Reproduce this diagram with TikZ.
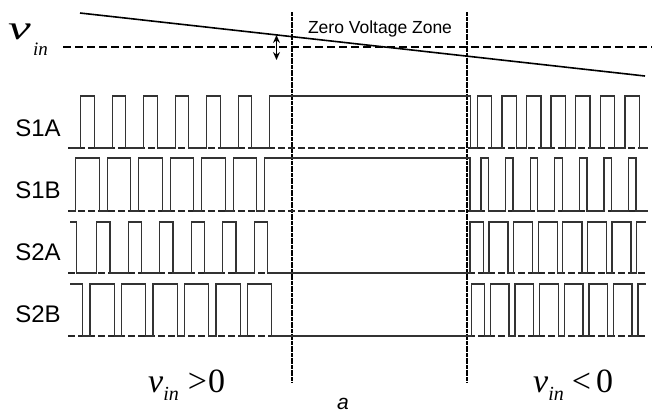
\documentclass[tikz,border=0pt]{standalone}
\usepackage{graphicx}
\usepackage{fontspec}
\setmainfont{Liberation Serif}
\newfontfamily\arialf{Liberation Sans}
\usetikzlibrary{arrows.meta}
\begin{document}
\begin{tikzpicture}[x=1pt,y=-1pt,
  wave/.style={line width=1.3pt, draw=black!80, line join=miter},
  base/.style={line width=1.2pt, dash pattern=on 6.5pt off 3.5pt, draw=black!85},
  zoneline/.style={line width=1.1pt, dash pattern=on 2pt off 0.4pt, draw=black},
  lab/.style={font=\arialf\fontsize{24}{24}\selectfont, inner sep=0pt},
  plain/.style={inner sep=0pt, anchor=base west}]
\useasboundingbox (0,0) rectangle (652,416);
\fill[white] (0,0) rectangle (652,416);

% reference line and input voltage
\coordinate (vs) at (80,13);
\coordinate (ve) at (645,76);
\coordinate (dl) at (63,47);
\coordinate (dr) at (652,47);
\draw[line width=1.6pt] (vs) -- (ve);
\draw[line width=1.5pt, dash pattern=on 8pt off 4pt] (dl) -- (dr);
\coordinate (at) at (276.5,35);
\coordinate (ab) at (276.5,60);
\draw[line width=1.2pt, {Stealth[length=8pt,width=7pt]}-{Stealth[length=8pt,width=7pt]}] (at) -- (ab);

% zone boundaries
\coordinate (z1t) at (292,12); \coordinate (z1b) at (292,383);
\coordinate (z2t) at (467,12); \coordinate (z2b) at (467,383);
\draw[zoneline] (z1t) -- (z1b);
\draw[zoneline] (z2t) -- (z2b);

% dashed baselines
\draw[base] (68,148) -- (648,148);
\draw[base] (68,211) -- (648,211);
\draw[base] (68,273) -- (648,273);
\draw[base] (68,336) -- (648,336);

% S1A
\draw[wave] (70,148)
  \foreach \k in {0,...,5}{ -- ({80.7+31.5*\k},148) -- ({80.7+31.5*\k},96) -- ({94.2+31.5*\k},96) -- ({94.2+31.5*\k},148) }
  -- (269.7,148) -- (269.7,96) -- (470.5,96) -- (470.5,148)
  \foreach \k in {0,...,6}{ -- ({477.3+24.6*\k},148) -- ({477.3+24.6*\k},96) -- ({491.7+24.6*\k},96) -- ({491.7+24.6*\k},148) }
  -- (648,148);

% S1B
\draw[wave] (70,211) -- (75.7,211) -- (75.7,158)
  \foreach \k in {0,...,5}{ -- ({99.3+31.5*\k},158) -- ({99.3+31.5*\k},211) -- ({107.2+31.5*\k},211) -- ({107.2+31.5*\k},158) }
  -- (470,158) -- (470,211)
  \foreach \k in {0,...,6}{ -- ({481+24.6*\k},211) -- ({481+24.6*\k},158) -- ({488.5+24.6*\k},158) -- ({488.5+24.6*\k},211) }
  -- (648,211);

% S2A
\draw[wave] (70,222) -- (76.7,222) -- (76.7,273)
  \foreach \k in {0,...,5}{ -- ({96.7+31.5*\k},273) -- ({96.7+31.5*\k},222) -- ({110+31.5*\k},222) -- ({110+31.5*\k},273) }
  -- (470,273) -- (470,222)
  \foreach \k in {0,...,6}{ -- ({483.5+24.6*\k},222) -- ({483.5+24.6*\k},273) -- ({489+24.6*\k},273) -- ({489+24.6*\k},222) }
  -- (646,222);

% S2B
\draw[wave] (70,284)
  \foreach \k in {0,...,5}{ -- ({82.7+31.5*\k},284) -- ({82.7+31.5*\k},336) -- ({90+31.5*\k},336) -- ({90+31.5*\k},284) }
  -- (271.7,284) -- (271.7,336) -- (471.7,336) -- (471.7,284)
  \foreach \k in {0,...,6}{ -- ({484.5+24.6*\k},284) -- ({484.5+24.6*\k},336) -- ({490.5+24.6*\k},336) -- ({490.5+24.6*\k},284) }
  -- (646,284);

% labels
\node[lab] (s1a) at (38,128) {S1A};
\node[lab] (s1b) at (38,190) {S1B};
\node[lab] (s2a) at (38,252) {S2A};
\node[lab] (s2b) at (38,314) {S2B};
\node[inner sep=0pt, anchor=base, font=\arialf\fontsize{17.5}{17.5}\selectfont] (zvz) at (380,33) {Zero Voltage Zone};

\node[plain] (vin) at (8,39) {\fontsize{34}{34}\selectfont\itshape\scalebox{1.5}[1]{v}};
\node[plain] (vinsub) at (33,55) {\fontsize{19}{19}\selectfont\itshape in};

\node[plain] (pos) at (148,392) {\fontsize{34}{34}\selectfont\itshape v\raisebox{-8pt}{\fontsize{20}{20}\selectfont in}\upshape\hspace{9pt}>\hspace{1pt}0};
\node[plain] (neg) at (533,392) {\fontsize{34}{34}\selectfont\itshape v\raisebox{-8pt}{\fontsize{20}{20}\selectfont in}\upshape\hspace{8pt}<\hspace{5pt}0};

\node[inner sep=0pt, font=\arialf\itshape\fontsize{21}{21}\selectfont] (cap) at (343,404) {a};
\end{tikzpicture}
\end{document}
